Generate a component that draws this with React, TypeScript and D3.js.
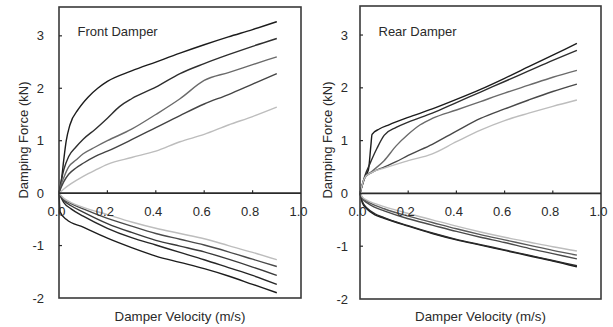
import React from 'react';
import * as d3 from 'd3';

type Pt = [number, number];

const xTicks = [0, 0.2, 0.4, 0.6, 0.8, 1.0];
const xTickLabels = ['0.0', '0.2', '0.4', '0.6', '0.8', '1.0'];
const yTicks = [-2, -1, 0, 1, 2, 3];
const yTickLabels = ['-2', '-1', '0', '1', '2', '3'];
const panelTitles = ['Front Damper', 'Rear Damper'];
const xAxisTitle = 'Damper Velocity (m/s)';
const yAxisTitle = 'Damping Force (kN)';

// Front damper – positive (rebound) curves
const frontPos1: Pt[] = [[0, 0], [0.01, 0.25], [0.02, 0.65], [0.03, 1.0], [0.045, 1.3], [0.08, 1.6], [0.12, 1.83], [0.16, 2.0], [0.2, 2.13], [0.3, 2.33], [0.4, 2.5], [0.5, 2.67], [0.6, 2.83], [0.7, 2.98], [0.8, 3.12], [0.9, 3.27]];
const frontPos2: Pt[] = [[0, 0], [0.01, 0.25], [0.02, 0.45], [0.04, 0.7], [0.07, 0.88], [0.1, 1.03], [0.15, 1.22], [0.2, 1.43], [0.25, 1.65], [0.3, 1.8], [0.4, 2.02], [0.5, 2.28], [0.6, 2.47], [0.7, 2.64], [0.8, 2.8], [0.9, 2.95]];
const frontPos3: Pt[] = [[0, 0], [0.01, 0.18], [0.02, 0.3], [0.04, 0.5], [0.07, 0.63], [0.1, 0.75], [0.15, 0.88], [0.2, 1.0], [0.3, 1.22], [0.4, 1.5], [0.5, 1.8], [0.6, 2.15], [0.7, 2.3], [0.8, 2.45], [0.9, 2.6]];
const frontPos4: Pt[] = [[0, 0], [0.01, 0.12], [0.02, 0.22], [0.04, 0.36], [0.07, 0.48], [0.1, 0.57], [0.15, 0.7], [0.2, 0.8], [0.3, 1.02], [0.4, 1.25], [0.5, 1.48], [0.6, 1.7], [0.7, 1.88], [0.8, 2.08], [0.9, 2.28]];
const frontPos5: Pt[] = [[0, 0], [0.02, 0.08], [0.05, 0.18], [0.1, 0.32], [0.15, 0.44], [0.2, 0.55], [0.3, 0.68], [0.4, 0.8], [0.5, 0.98], [0.6, 1.12], [0.7, 1.3], [0.8, 1.46], [0.9, 1.64]];

// Front damper – negative (compression) curves
const frontNeg1: Pt[] = [[0, 0], [0.005, -0.36], [0.03, -0.5], [0.1, -0.65], [0.2, -0.86], [0.3, -1.04], [0.4, -1.2], [0.5, -1.32], [0.6, -1.44], [0.7, -1.58], [0.8, -1.74], [0.9, -1.9]];
const frontNeg2: Pt[] = [[0, 0], [0.02, -0.18], [0.05, -0.3], [0.1, -0.44], [0.2, -0.67], [0.3, -0.85], [0.4, -0.99], [0.5, -1.13], [0.6, -1.27], [0.7, -1.42], [0.8, -1.57], [0.9, -1.74]];
const frontNeg3: Pt[] = [[0, 0], [0.02, -0.14], [0.05, -0.24], [0.1, -0.36], [0.2, -0.58], [0.3, -0.75], [0.4, -0.9], [0.5, -1.01], [0.6, -1.12], [0.7, -1.26], [0.8, -1.41], [0.9, -1.57]];
const frontNeg4: Pt[] = [[0, 0], [0.02, -0.12], [0.05, -0.2], [0.1, -0.3], [0.2, -0.48], [0.3, -0.63], [0.4, -0.77], [0.5, -0.88], [0.6, -0.99], [0.7, -1.12], [0.8, -1.26], [0.9, -1.4]];
const frontNeg5: Pt[] = [[0, 0], [0.02, -0.1], [0.05, -0.18], [0.1, -0.27], [0.2, -0.41], [0.3, -0.55], [0.4, -0.67], [0.5, -0.77], [0.6, -0.87], [0.7, -1.0], [0.8, -1.13], [0.9, -1.27]];

// Rear damper – positive curves
const rearPos1: Pt[] = [[0, 0], [0.02, 0.3], [0.035, 0.45], [0.045, 0.9], [0.05, 1.12], [0.08, 1.22], [0.12, 1.3], [0.2, 1.44], [0.3, 1.6], [0.4, 1.78], [0.5, 1.97], [0.6, 2.18], [0.7, 2.4], [0.8, 2.62], [0.9, 2.84]];
const rearPos2: Pt[] = [[0, 0], [0.02, 0.33], [0.04, 0.55], [0.07, 0.85], [0.1, 1.1], [0.15, 1.25], [0.2, 1.35], [0.3, 1.52], [0.4, 1.72], [0.5, 1.92], [0.6, 2.12], [0.7, 2.32], [0.8, 2.52], [0.9, 2.71]];
const rearPos3: Pt[] = [[0, 0], [0.02, 0.3], [0.05, 0.42], [0.1, 0.62], [0.15, 0.9], [0.2, 1.12], [0.25, 1.3], [0.3, 1.42], [0.4, 1.58], [0.5, 1.74], [0.6, 1.9], [0.7, 2.05], [0.8, 2.2], [0.9, 2.33]];
const rearPos4: Pt[] = [[0, 0], [0.02, 0.3], [0.05, 0.4], [0.1, 0.5], [0.15, 0.6], [0.2, 0.72], [0.3, 0.93], [0.4, 1.18], [0.5, 1.42], [0.6, 1.6], [0.7, 1.77], [0.8, 1.93], [0.9, 2.07]];
const rearPos5: Pt[] = [[0, 0], [0.02, 0.3], [0.05, 0.4], [0.1, 0.48], [0.2, 0.62], [0.3, 0.75], [0.4, 0.98], [0.5, 1.2], [0.6, 1.38], [0.7, 1.52], [0.8, 1.65], [0.9, 1.77]];

// Rear damper – negative curves
const rearNeg1: Pt[] = [[0, 0], [0.01, -0.18], [0.03, -0.3], [0.06, -0.4], [0.1, -0.47], [0.2, -0.62], [0.3, -0.76], [0.4, -0.88], [0.5, -0.98], [0.6, -1.08], [0.7, -1.18], [0.8, -1.28], [0.9, -1.39]];
const rearNeg2: Pt[] = [[0, 0], [0.01, -0.16], [0.03, -0.28], [0.06, -0.38], [0.1, -0.46], [0.2, -0.61], [0.3, -0.75], [0.4, -0.87], [0.5, -0.97], [0.6, -1.07], [0.7, -1.17], [0.8, -1.27], [0.9, -1.37]];
const rearNeg3: Pt[] = [[0, 0], [0.01, -0.1], [0.03, -0.18], [0.06, -0.26], [0.1, -0.33], [0.2, -0.48], [0.3, -0.6], [0.4, -0.72], [0.5, -0.83], [0.6, -0.93], [0.7, -1.04], [0.8, -1.14], [0.9, -1.24]];
const rearNeg4: Pt[] = [[0, 0], [0.01, -0.08], [0.03, -0.15], [0.06, -0.22], [0.1, -0.29], [0.2, -0.43], [0.3, -0.55], [0.4, -0.67], [0.5, -0.78], [0.6, -0.88], [0.7, -0.98], [0.8, -1.08], [0.9, -1.17]];
const rearNeg5: Pt[] = [[0, 0], [0.01, -0.07], [0.03, -0.13], [0.06, -0.19], [0.1, -0.25], [0.2, -0.38], [0.3, -0.5], [0.4, -0.62], [0.5, -0.73], [0.6, -0.83], [0.7, -0.92], [0.8, -1.01], [0.9, -1.09]];

const frontCurves = [frontPos1, frontPos2, frontPos3, frontPos4, frontPos5, frontNeg1, frontNeg2, frontNeg3, frontNeg4, frontNeg5];
const rearCurves = [rearPos1, rearPos2, rearPos3, rearPos4, rearPos5, rearNeg1, rearNeg2, rearNeg3, rearNeg4, rearNeg5];

const frontColors = ['#1c1c1c', '#2e2e2e', '#6a6a6a', '#444444', '#bdbdbd', '#1c1c1c', '#262626', '#3a3a3a', '#4a4a4a', '#bdbdbd'];
const rearColors = ['#1c1c1c', '#2e2e2e', '#6a6a6a', '#484848', '#bdbdbd', '#1c1c1c', '#2a2a2a', '#4a4a4a', '#5a5a5a', '#bdbdbd'];

const FONT = "'Liberation Sans', Arial, sans-serif";

type PanelProps = {
  title: string;
  curves: Pt[][];
  colors: string[];
  left: number;
  right: number;
  top: number;
  bottom: number;
  yLabelX: number;
  yTitleX: number;
};

function Panel({ title, curves, colors, left, right, top, bottom, yLabelX, yTitleX }: PanelProps) {
  const x = d3.scaleLinear().domain([0, 1]).range([left, right]);
  const y = d3.scaleLinear().domain([-2, 3.55]).range([bottom, top]);
  const line = d3
    .line<Pt>()
    .x((d) => x(d[0]))
    .y((d) => y(d[1]))
    .curve(d3.curveMonotoneX);
  const y0 = y(0);
  return (
    <g>
      {curves.map((c, i) => (
        <path key={i} d={line(c) || ''} fill="none" stroke={colors[i]} strokeWidth={1.4} strokeLinejoin="round" />
      ))}
      <rect x={left} y={top} width={right - left} height={bottom - top} fill="none" stroke="#3a3a3a" strokeWidth={1.6} />
      <line x1={left} x2={right} y1={y0} y2={y0} stroke="#2a2a2a" strokeWidth={1.6} />
      {xTicks.slice(1, -1).map((t) => (
        <line key={'xt' + t} x1={x(t)} x2={x(t)} y1={y0} y2={y0 - 3} stroke="#2a2a2a" strokeWidth={1.2} />
      ))}
      {yTicks.filter((t) => t !== 0 && t !== -2).map((t) => (
        <line key={'yt' + t} x1={left} x2={left + 3} y1={y(t)} y2={y(t)} stroke="#2a2a2a" strokeWidth={1.2} />
      ))}
      {xTicks.map((t, i) => (
        <text key={'xl' + t} x={x(t) - 2.5} y={y0 + 23} textAnchor="middle" fontSize={13} fontFamily={FONT} fill="#2a2a2a">
          {xTickLabels[i]}
        </text>
      ))}
      {yTicks.map((t, i) => (
        <text key={'yl' + t} x={yLabelX} y={y(t)} dy="0.35em" textAnchor="end" fontSize={13} fontFamily={FONT} fill="#2a2a2a">
          {yTickLabels[i]}
        </text>
      ))}
      <text x={left + 18.5} y={35.7} fontSize={13} fontFamily={FONT} fill="#2a2a2a">
        {title}
      </text>
      <text x={(left + right) / 2} y={320.5} textAnchor="middle" fontSize={13.3} fontFamily={FONT} fill="#2a2a2a">
        {xAxisTitle}
      </text>
      <text transform={`translate(${yTitleX},140) rotate(-90)`} textAnchor="middle" fontSize={13} fontFamily={FONT} fill="#2a2a2a">
        {yAxisTitle}
      </text>
    </g>
  );
}

export default function App() {
  return (
    <svg width={613} height={327} style={{ position: 'absolute', left: 0, top: 0, background: '#fff' }}>
      <rect width={613} height={327} fill="#fff" />
      <Panel title={panelTitles[0]} curves={frontCurves} colors={frontColors} left={59} right={301} top={7} bottom={298} yLabelX={44} yTitleX={27.5} />
      <Panel title={panelTitles[1]} curves={rearCurves} colors={rearColors} left={360} right={601} top={6} bottom={299} yLabelX={348} yTitleX={331.5} />
    </svg>
  );
}
